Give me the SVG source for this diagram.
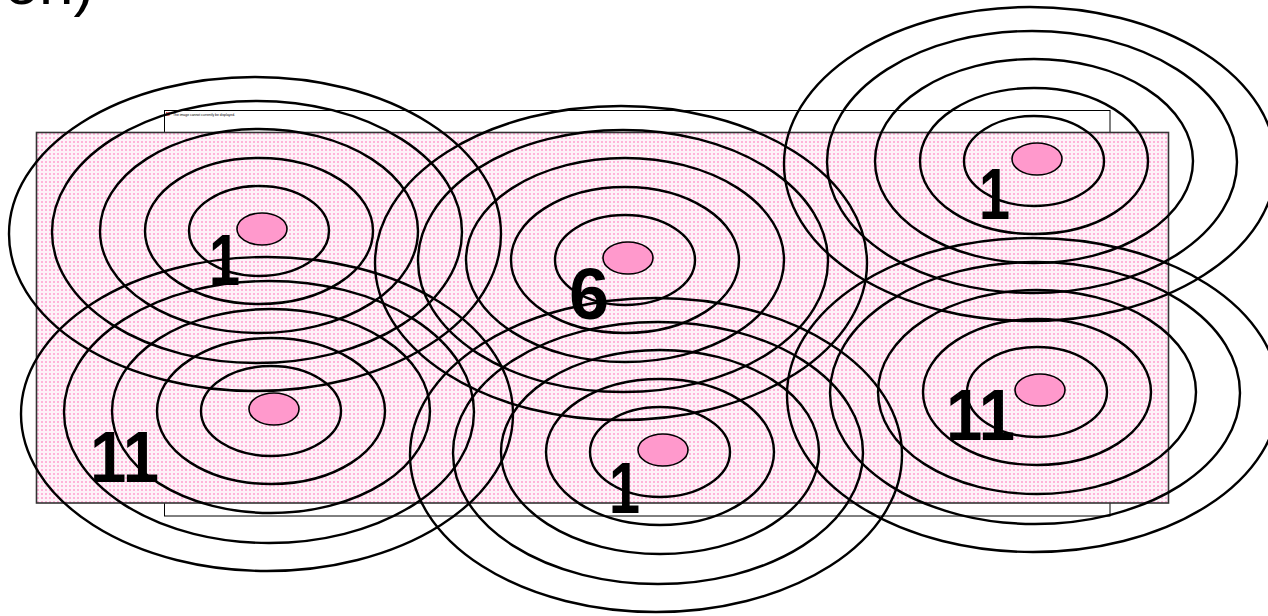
<svg xmlns="http://www.w3.org/2000/svg" xmlns:xlink="http://www.w3.org/1999/xlink" width="1268" height="616" viewBox="0 0 1268 616">
  <defs>
    <!-- dotted pink fill of the coverage area -->
    <pattern id="dots" width="4" height="4" patternUnits="userSpaceOnUse">
      <rect width="4" height="4" fill="#fef2f8"/>
      <circle cx="2" cy="2" r="1" fill="#ff9fcf"/>
    </pattern>
    <!-- concentric signal rings around an access point at (0,0) -->
    <g id="rings" class="ring">
      <ellipse cx="-3" cy="2" rx="70" ry="45"/>
      <ellipse cx="-3" cy="2" rx="114" ry="73"/>
      <ellipse cx="-3" cy="2" rx="159" ry="102"/>
      <ellipse cx="-5" cy="3" rx="205" ry="131"/>
      <ellipse cx="-7" cy="5" rx="246" ry="157"/>
    </g>
  </defs>
  <style>
    .ring ellipse { fill: none; stroke: #000; stroke-width: 2.4; }
    .ap { fill: #ff99cc; stroke: #000; stroke-width: 1.6; }
    .ch { font-family: "Liberation Sans", Arial, sans-serif; font-weight: bold; font-size: 72px; fill: #000; }
    .title { font-family: "Liberation Sans", Arial, sans-serif; font-size: 62px; fill: #000; }
    .note { font-family: "Liberation Sans", Arial, sans-serif; font-size: 3.4px; fill: #000; }
  </style>

  <rect width="1268" height="616" fill="#fff"/>

  <!-- heading text, clipped by the top edge -->
  <text class="title" x="4.5" y="4">on)</text>

  <!-- placeholder frame of a missing picture -->
  <g id="placeholder">
    <rect x="164.5" y="110.5" width="945.5" height="405.5" fill="#fff" stroke="#000" stroke-width="1"/>
    <rect x="166.5" y="112.5" width="3" height="3" fill="#fff" stroke="#d22" stroke-width="0.6"/>
    <text class="note" x="173" y="115.5">The image cannot currently be displayed.</text>
  </g>

  <!-- coverage area -->
  <rect id="area" x="36.5" y="132.5" width="1132" height="370.5" fill="url(#dots)" stroke="#333" stroke-width="1.6"/>

  <!-- access points with their channel numbers -->
  <g id="ap-top-left">
    <use xlink:href="#rings" href="#rings" x="262" y="229"/>
    <ellipse class="ap" cx="262" cy="229" rx="25" ry="16"/>
    <text class="ch" x="209" y="285" textLength="31" lengthAdjust="spacingAndGlyphs">1</text>
  </g>
  <g id="ap-center">
    <use xlink:href="#rings" href="#rings" x="628" y="258"/>
    <ellipse class="ap" cx="628" cy="258" rx="25" ry="16"/>
    <text class="ch" x="569" y="319">6</text>
  </g>
  <g id="ap-top-right">
    <use xlink:href="#rings" href="#rings" x="1037" y="159"/>
    <ellipse class="ap" cx="1037" cy="159" rx="25" ry="16"/>
    <text class="ch" x="979" y="219" textLength="31" lengthAdjust="spacingAndGlyphs">1</text>
  </g>
  <g id="ap-bottom-left">
    <use xlink:href="#rings" href="#rings" x="274" y="409"/>
    <ellipse class="ap" cx="274" cy="409" rx="25" ry="16"/>
    <text class="ch" x="90" y="482" textLength="69" lengthAdjust="spacingAndGlyphs">11</text>
  </g>
  <g id="ap-bottom-center">
    <use xlink:href="#rings" href="#rings" x="663" y="450"/>
    <ellipse class="ap" cx="663" cy="450" rx="25" ry="16"/>
    <text class="ch" x="609" y="513" textLength="31" lengthAdjust="spacingAndGlyphs">1</text>
  </g>
  <g id="ap-right">
    <use xlink:href="#rings" href="#rings" x="1040" y="390"/>
    <ellipse class="ap" cx="1040" cy="390" rx="25" ry="16"/>
    <text class="ch" x="946" y="440" textLength="69" lengthAdjust="spacingAndGlyphs">11</text>
  </g>
</svg>
